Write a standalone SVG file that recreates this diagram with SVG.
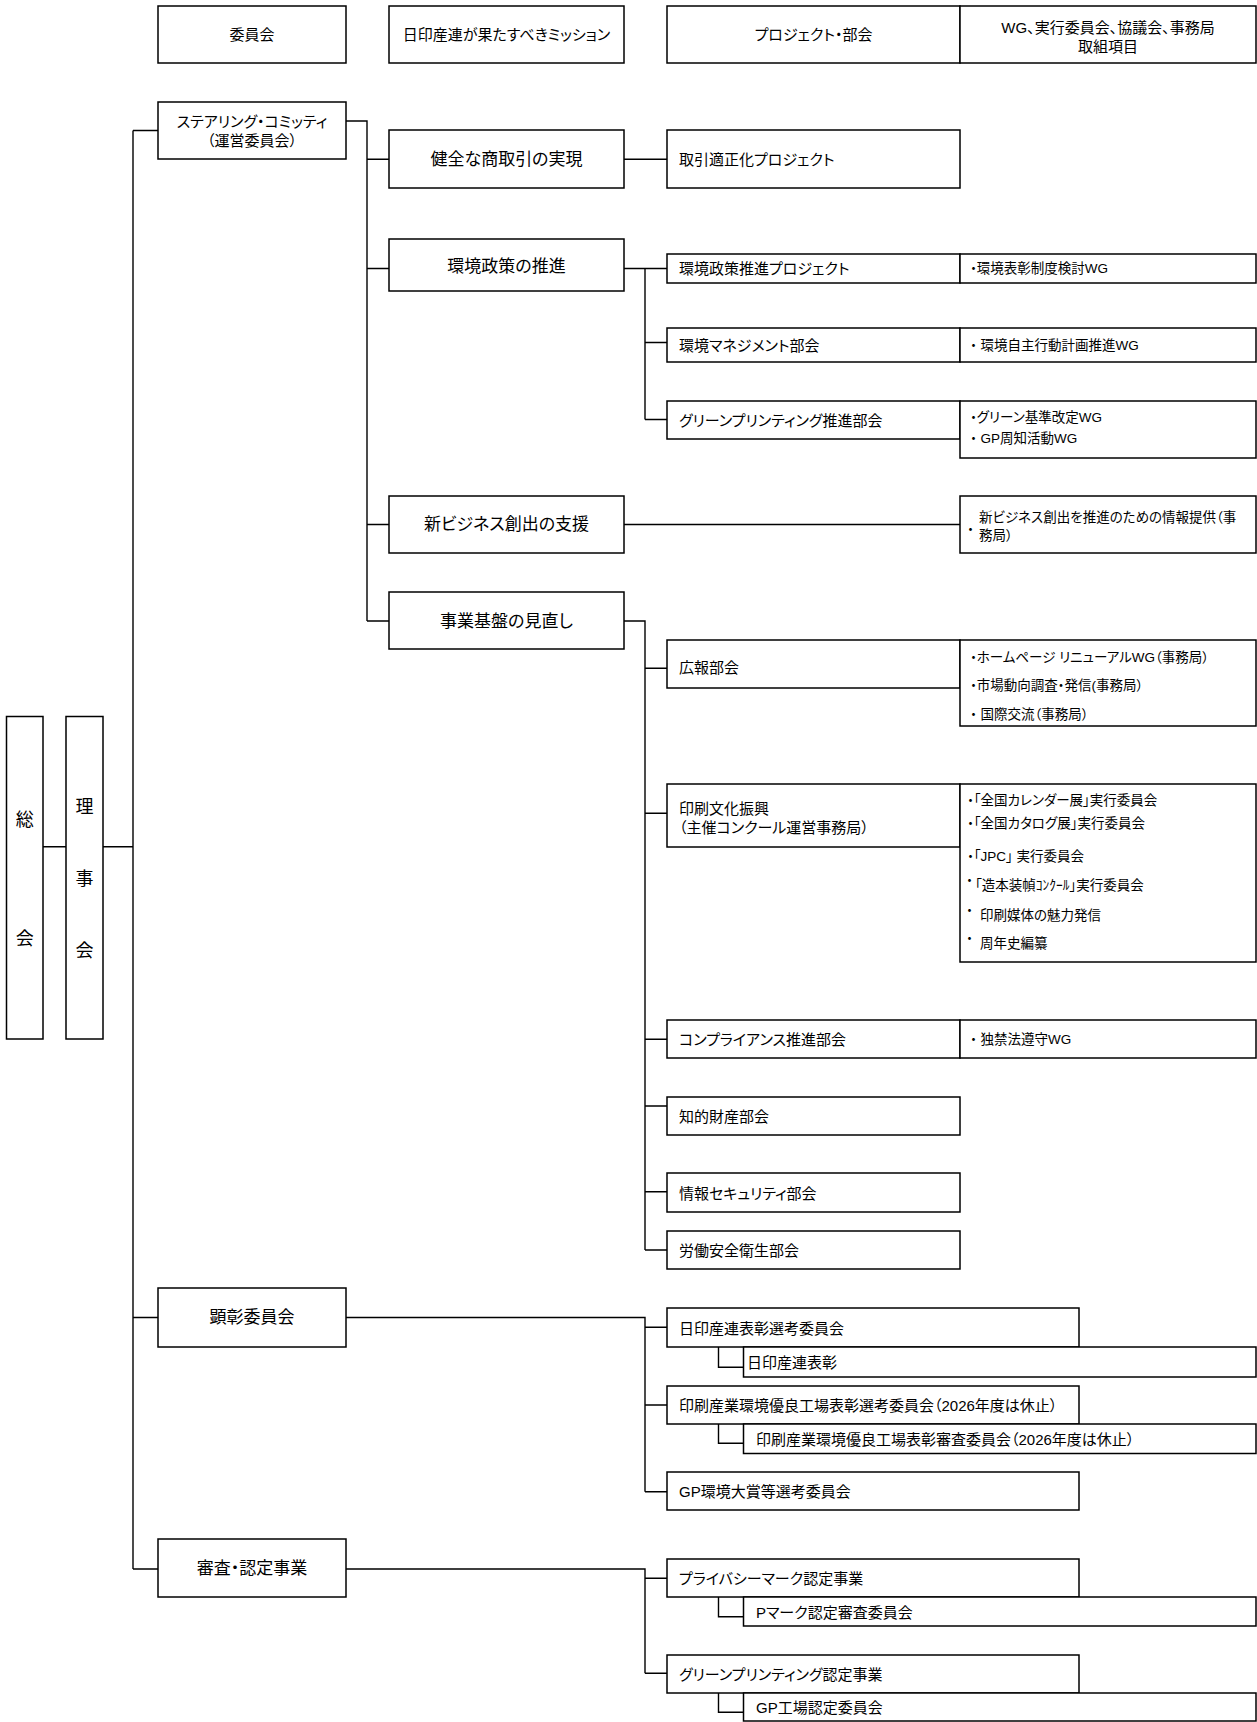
<svg xmlns="http://www.w3.org/2000/svg" width="1257" height="1722" viewBox="0 0 1257 1722">
<style>
text{font-family:"Liberation Sans","Noto Sans CJK JP",sans-serif;fill:#000;dominant-baseline:central;font-feature-settings:"palt"}
rect{fill:#fff;stroke:#000;stroke-width:1.5}
.cn path{fill:none;stroke:#000;stroke-width:1.4}
.h{font-size:15px;text-anchor:middle}
.m{font-size:17px;text-anchor:middle}
.s{font-size:15px;text-anchor:middle}
.p{font-size:15px}
.w{font-size:13.5px}
.v{font-size:18px;text-anchor:middle}
</style>
<rect x="0" y="0" width="1257" height="1722" style="fill:#fff;stroke:none"/>
<g id="connectors" class="cn">
<path d="M43,846.7H66M103,846.7H133M133,130.5V1569M133,130.5H158M133,1317.5H158M133,1569H158"/>
<path d="M346,121H367V621M367,159.3H389M367,268.5H389M367,524.5H389M367,621H389"/>
<path d="M624,159.3H667"/>
<path d="M624,268.5H667M645,268.5V419.5M645,342.5H667M645,419.5H667"/>
<path d="M624,524.5H960"/>
<path d="M624,621H645V1250M645,668.3H667M645,813.3H667M645,1039.3H667M645,1106H667M645,1191.7H667M645,1250H667"/>
<path d="M346,1317.5H645V1491.7M645,1327.3H667M645,1405H667M645,1491.7H667"/>
<path d="M718.5,1347V1367.3H743.5M718.5,1424V1443.3H743.5"/>
<path d="M346,1569H645V1673.3M645,1578.3H667M645,1673.3H667"/>
<path d="M718.5,1597V1616.7H743.5M718.5,1693V1712.3H743.5"/>
</g>
<g id="hdr-committee"><rect x="158" y="6" width="188" height="57"/><text class="h" x="252" y="34.5">委員会</text></g>
<g id="hdr-mission"><rect x="389" y="6" width="235" height="57"/><text class="h" x="506.5" y="34.5">日印産連が果たすべきミッション</text></g>
<g id="hdr-project"><rect x="667" y="6" width="293" height="57"/><text class="h" x="813.5" y="34.5">プロジェクト・部会</text></g>
<g id="hdr-wg"><rect x="960" y="6" width="296" height="57"/><text class="h" x="1108" y="27">WG、実行委員会、協議会、事務局</text><text class="h" x="1108" y="46">取組項目</text></g>

<g id="soukai"><rect x="6.5" y="716.5" width="36.5" height="322.5"/><text class="v" x="24.8" y="820">総</text><text class="v" x="24.8" y="939">会</text></g>
<g id="rijikai"><rect x="66" y="716.5" width="37" height="322.5"/><text class="v" x="84.5" y="807">理</text><text class="v" x="84.5" y="879">事</text><text class="v" x="84.5" y="951">会</text></g>

<g id="steering"><rect x="158" y="102" width="188" height="57"/><text class="s" x="252" y="121.5">ステアリング・コミッティ</text><text class="s" x="252" y="140.5">（運営委員会）</text></g>
<g id="m-kenzen"><rect x="389" y="130" width="235" height="58"/><text class="m" x="506.5" y="159">健全な商取引の実現</text></g>
<g id="m-kankyo"><rect x="389" y="239" width="235" height="52"/><text class="m" x="506.5" y="266">環境政策の推進</text></g>
<g id="m-newbiz"><rect x="389" y="496" width="235" height="57"/><text class="m" x="506.5" y="524.5">新ビジネス創出の支援</text></g>
<g id="m-kiban"><rect x="389" y="592" width="235" height="57"/><text class="m" x="506.5" y="621">事業基盤の見直し</text></g>

<g id="p-torihiki"><rect x="667" y="130" width="293" height="58"/><text class="p" x="679" y="159">取引適正化プロジェクト</text></g>
<g id="p-kankyo-pj"><rect x="667" y="254" width="293" height="29"/><rect x="960" y="254" width="296" height="29"/><text class="p" x="679" y="268.5">環境政策推進プロジェクト</text><text class="w" x="970" y="268.5">・環境表彰制度検討WG</text></g>
<g id="p-kankyo-mgmt"><rect x="667" y="328" width="293" height="34"/><rect x="960" y="328" width="296" height="34"/><text class="p" x="679" y="345.5">環境マネジメント部会</text><text class="w" x="970" y="345.5">・ 環境自主行動計画推進WG</text></g>
<g id="p-green"><rect x="667" y="401" width="293" height="38"/><rect x="960" y="401" width="296" height="57"/><text class="p" x="679" y="420.5">グリーンプリンティング推進部会</text><text class="w" x="970" y="417">・グリーン基準改定WG</text><text class="w" x="970" y="438.5">・ GP周知活動WG</text></g>
<g id="w-newbiz"><rect x="960" y="496" width="296" height="57"/><text class="w" x="967" y="529">・</text><text class="w" x="979" y="517">新ビジネス創出を推進のための情報提供（事</text><text class="w" x="979" y="535.5">務局）</text></g>
<g id="p-koho"><rect x="667" y="640" width="293" height="48"/><rect x="960" y="640" width="296" height="86"/><text class="p" x="679" y="667">広報部会</text><text class="w" x="970" y="657">・ホームページ リニューアルWG（事務局）</text><text class="w" x="970" y="685.5">・市場動向調査・発信(事務局）</text><text class="w" x="970" y="714">・ 国際交流（事務局）</text></g>
<g id="p-bunka"><rect x="667" y="784" width="293" height="63"/><rect x="960" y="784" width="296" height="178"/><text class="p" x="679" y="808.5">印刷文化振興</text><text class="p" x="679" y="827">（主催コンクール運営事務局）</text>
<text class="w" x="967" y="800">・「全国カレンダー展」実行委員会</text><text class="w" x="967" y="823">・「全国カタログ展」実行委員会</text><text class="w" x="967" y="856">・「JPC」 実行委員会</text>
<text class="w" x="966" y="880">・</text><text class="w" x="975" y="885">「造本装幀ｺﾝｸｰﾙ」実行委員会</text>
<text class="w" x="966" y="910">・</text><text class="w" x="980" y="915">印刷媒体の魅力発信</text>
<text class="w" x="966" y="938">・</text><text class="w" x="980" y="943">周年史編纂</text></g>
<g id="p-compliance"><rect x="667" y="1020" width="293" height="38"/><rect x="960" y="1020" width="296" height="38"/><text class="p" x="679" y="1039">コンプライアンス推進部会</text><text class="w" x="970" y="1039">・ 独禁法遵守WG</text></g>
<g id="p-chiteki"><rect x="667" y="1097" width="293" height="38"/><text class="p" x="679" y="1116">知的財産部会</text></g>
<g id="p-security"><rect x="667" y="1173" width="293" height="39"/><text class="p" x="679" y="1193.5">情報セキュリティ部会</text></g>
<g id="p-rodo"><rect x="667" y="1231" width="293" height="38"/><text class="p" x="679" y="1250.5">労働安全衛生部会</text></g>

<g id="kensho"><rect x="158" y="1288" width="188" height="59"/><text class="m" x="252" y="1317.5">顕彰委員会</text></g>
<g id="p-hyosho-sen"><rect x="667" y="1308" width="412" height="39"/><text class="p" x="679" y="1328">日印産連表彰選考委員会</text></g>
<g id="s-hyosho"><rect x="743.5" y="1347" width="512.5" height="30"/><text class="p" x="747" y="1362">日印産連表彰</text></g>
<g id="p-yuryo-sen"><rect x="667" y="1386" width="412" height="38"/><text class="p" x="679" y="1405">印刷産業環境優良工場表彰選考委員会（2026年度は休止）</text></g>
<g id="s-yuryo-shin"><rect x="743.5" y="1424" width="512.5" height="29.5"/><text class="p" x="756" y="1439">印刷産業環境優良工場表彰審査委員会（2026年度は休止）</text></g>
<g id="p-gp-taisho"><rect x="667" y="1472" width="412" height="38"/><text class="p" x="679" y="1491">GP環境大賞等選考委員会</text></g>

<g id="shinsa"><rect x="158" y="1539" width="188" height="58"/><text class="m" x="252" y="1568">審査・認定事業</text></g>
<g id="p-pmark"><rect x="667" y="1559" width="412" height="38"/><text class="p" x="679" y="1578">プライバシーマーク認定事業</text></g>
<g id="s-pmark"><rect x="743.5" y="1597" width="512.5" height="29"/><text class="p" x="756" y="1612">Pマーク認定審査委員会</text></g>
<g id="p-gp-nintei"><rect x="667" y="1655" width="412" height="38"/><text class="p" x="679" y="1674">グリーンプリンティング認定事業</text></g>
<g id="s-gp-kojo"><rect x="743.5" y="1693" width="512.5" height="28"/><text class="p" x="756" y="1707.5">GP工場認定委員会</text></g>
</svg>
